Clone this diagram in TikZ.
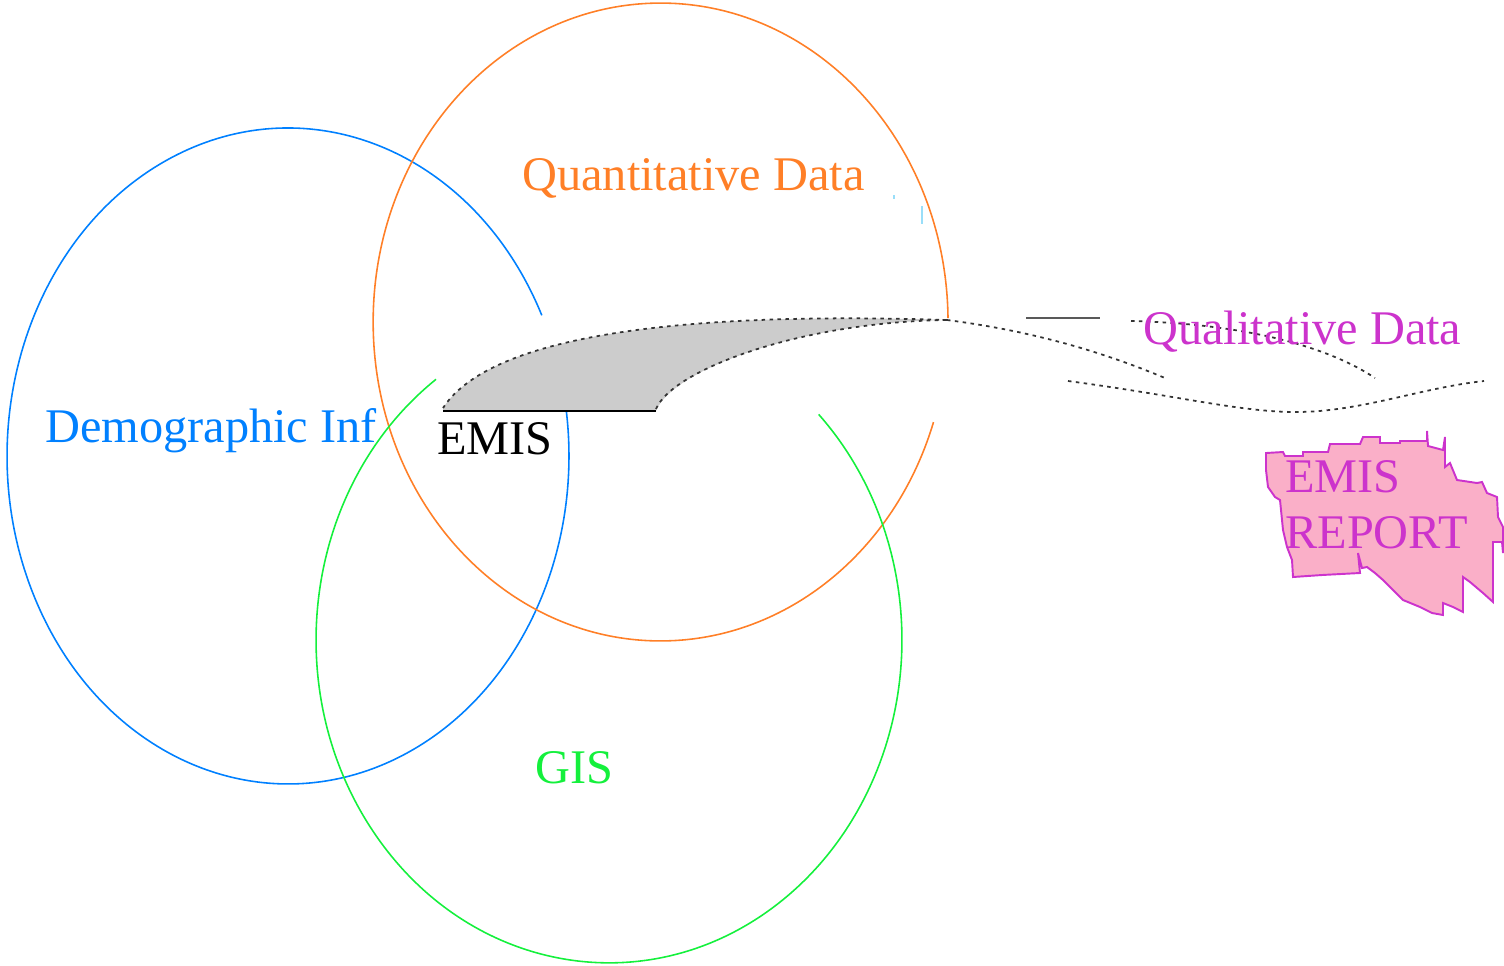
\documentclass[tikz,border=0pt]{standalone}
\usepackage{fontspec}
\setmainfont{Liberation Serif}
\usepackage{xcolor}
\definecolor{QuantOrange}{RGB}{255,127,39}
\definecolor{DemoBlue}{RGB}{0,128,255}
\definecolor{GisGreen}{RGB}{20,240,60}
\definecolor{QualMagenta}{RGB}{204,51,204}
\definecolor{ReportPink}{RGB}{250,175,200}
\definecolor{EmisGrey}{RGB}{204,204,204}

\begin{document}
\begin{tikzpicture}[x=0.02cm, y=-0.02cm,
    label/.style={anchor=base west, inner sep=0pt, font=\fontsize{27.5}{30}\selectfont},
    ring/.style={line width=0.9pt},
    scroll/.style={line width=1pt, black!80, dash pattern=on 2pt off 2.5pt}]
  \useasboundingbox (0,0) rectangle (1504,965);

  % the three sets
  \draw[ring, DemoBlue] (541.8,315.3) arc[start angle=25.4, end angle=367.7, x radius=5.62cm, y radius=6.56cm];
  \draw[ring, QuantOrange] (948,318.1) arc[start angle=0.7, end angle=341.7, x radius=5.75cm, y radius=6.38cm];
  \draw[ring, GisGreen] (436,379.3) arc[start angle=126.2, end angle=404.3, x radius=5.86cm, y radius=6.46cm];
  \draw[cyan!40, line width=0.6pt] (922,206) -- (922,224);
  \draw[cyan!40, line width=0.6pt] (894,195) -- (894,199);

  % EMIS wedge
  \fill[EmisGrey] (443,411) -- (656,411) .. controls (672,370) and (800,322) .. (947,320)
    .. controls (760,314) and (500,320) .. (443,408) -- cycle;
  \draw[scroll] (656,409) .. controls (672,370) and (800,322) .. (947,320);
  \draw[scroll] (947,320) .. controls (760,314) and (500,320) .. (443,408);
  \draw[line width=1.4pt] (443,411) -- (656,411);

  % qualitative scroll
  \draw[scroll] (947,320) .. controls (1040,332) and (1110,355) .. (1165,378);
  \draw[line width=0.9pt, black!65] (1026,318) -- (1100,318);
  \draw[scroll] (1131,321) .. controls (1250,324) and (1330,348) .. (1375,378);
  \draw[scroll] (1068,381) .. controls (1180,396) and (1240,412) .. (1296,412)
    .. controls (1360,412) and (1420,388) .. (1484,381);

  % report blob
  \filldraw[fill=ReportPink, draw=QualMagenta, line width=1.1pt]
    (1266,453) -- (1283,452) -- (1285,456) -- (1303,456) -- (1303,452) -- (1328,452)
    -- (1330,444) -- (1360,444) -- (1363,437) -- (1380,437) -- (1380,443) -- (1400,443)
    -- (1400,441) -- (1427,441) -- (1427,431) -- (1428,446) -- (1443,450) -- (1445,437)
    -- (1445,467) -- (1450,463) -- (1457,480) -- (1477,483) -- (1482,482) -- (1487,493)
    -- (1497,497) -- (1498,517) -- (1503,527) -- (1503,553) -- (1502,542) -- (1493,542)
    -- (1493,602) -- (1483,593) -- (1470,582) -- (1463,577) -- (1463,612) -- (1453,607)
    -- (1443,603) -- (1443,615) -- (1432,613) -- (1420,607) -- (1403,600) -- (1393,590)
    -- (1383,580) -- (1375,573) -- (1367,567) -- (1362,568) -- (1358,553) -- (1360,573)
    -- (1322,575) -- (1293,577) -- (1292,560) -- (1287,547) -- (1283,530) -- (1280,500)
    -- (1275,497) -- (1268,487) -- (1266,470) -- cycle;

  % labels
  \node (quant) [label, QuantOrange] at (522,190) {Quantitative Data};
  \node (demo) [label, DemoBlue] at (45,442) {Demographic Inf};
  \node (emis) [label] at (437,454) {EMIS};
  \node (gis) [label, GisGreen] at (535,783) {GIS};
  \node (qual) [label, QualMagenta] at (1143,344) {Qualitative Data};
  \node (report) [label, QualMagenta] at (1285,492) {EMIS};
  \node (report2) [label, QualMagenta] at (1285,548) {REPORT};
\end{tikzpicture}
\end{document}
